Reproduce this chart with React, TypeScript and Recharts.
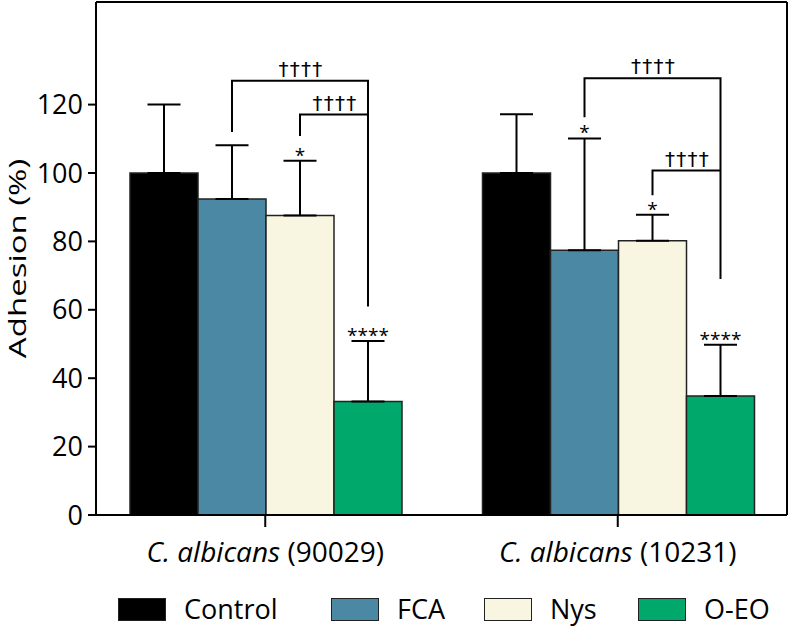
import React from "react";
import { Bar, BarChart, ErrorBar, LabelList, XAxis, YAxis } from "recharts";

const categories = ["C. albicans (90029)", "C. albicans (10231)"];
const seriesNames = ["Control", "FCA", "Nys", "O-EO"];
const seriesColors = ["#000000", "#4a88a4", "#f8f6e1", "#00a86b"];

const control = [100, 100];
const controlErr = [20, 17.2];
const fca = [92.4, 77.4];
const fcaErr = [15.7, 32.7];
const nys = [87.6, 80.2];
const nysErr = [16, 7.6];
const oeo = [33.2, 34.8];
const oeoErr = [17.7, 15];

const controlStars = ["", ""];
const fcaStars = ["", "*"];
const nysStars = ["*", "*"];
const oeoStars = ["****", "****"];

// significance brackets (O-EO vs FCA and O-EO vs Nys), in % units
const fcaBracketStart = [112, 116.3];
const fcaBracketTop = [127, 127.7];
const oeoBracketEnd = [61, 69];
const nysBracketStart = [110.8, 93.5];
const nysBracketTop = [117.1, 100.7];
const bracketMark = "††††";

const yTicks = [0, 20, 40, 60, 80, 100, 120];

const data = categories.map((name, i) => ({
  name,
  control: control[i],
  controlErr: [0, controlErr[i]],
  fca: fca[i],
  fcaErr: [0, fcaErr[i]],
  nys: nys[i],
  nysErr: [0, nysErr[i]],
  oeo: oeo[i],
  oeoErr: [0, oeoErr[i]],
}));

const FONT = "'Open Sans', sans-serif";
const MARK_FONT = "'DejaVu Sans', sans-serif";

const makeStars = (stars: string[], values: number[], errs: number[]) => (props: any) => {
  const { x, y, width, height, index } = props;
  const s = stars[index];
  if (!s) return null;
  const base = y + height;
  const ppu = height / values[index];
  const capY = base - (values[index] + errs[index]) * ppu;
  return (
    <text x={x + width / 2} y={capY + 1} textAnchor="middle" fontSize={19} fontFamily={FONT} fill="#000">
      {s}
    </text>
  );
};

const Brackets = (props: any) => {
  const { x, y, width, height, index } = props;
  const base = y + height;
  const ppu = height / oeo[index];
  const py = (v: number) => base - v * ppu;
  const cx = x + width / 2;
  const fx = cx - 2 * width;
  const nx = cx - width;
  const d =
    `M${fx},${py(fcaBracketStart[index])} V${py(fcaBracketTop[index])} H${cx} V${py(oeoBracketEnd[index])} ` +
    `M${nx},${py(nysBracketStart[index])} V${py(nysBracketTop[index])} H${cx}`;
  const markStyle = { fontSize: 20, fontFamily: MARK_FONT, fill: "#000", letterSpacing: 1.3 };
  return (
    <g>
      <path d={d} fill="none" stroke="#000" strokeWidth={2} />
      <text x={(fx + cx) / 2 + 1} y={py(fcaBracketTop[index]) - 5} textAnchor="middle" style={markStyle}>
        {bracketMark}
      </text>
      <text x={(nx + cx) / 2 + 1} y={py(nysBracketTop[index]) - 5} textAnchor="middle" style={markStyle}>
        {bracketMark}
      </text>
    </g>
  );
};

const CategoryTick = (props: any) => {
  const { x, y, payload } = props;
  const label: string = payload.value;
  const cut = label.indexOf(" (");
  return (
    <text x={x} y={y} dy={33} textAnchor="middle" fontSize={28} fontFamily={FONT} fill="#000">
      <tspan fontStyle="italic">{label.slice(0, cut)}</tspan>
      <tspan>{label.slice(cut)}</tspan>
    </text>
  );
};

const YTitle = (props: any) => {
  const { viewBox } = props;
  const cy = viewBox.y + viewBox.height / 2;
  return (
    <text
      x={0}
      y={0}
      transform={`translate(16, ${cy}) rotate(-90) scale(1, 0.72)`}
      textAnchor="middle"
      dominantBaseline="central"
      fontSize={33}
      fontFamily={FONT}
      fill="#000"
    >
      Adhesion (%)
    </text>
  );
};

const barStroke = { stroke: "#222", strokeWidth: 1.5 };
const errProps = { width: 16.5, strokeWidth: 2, stroke: "#000", direction: "y" as const };

export default function App() {
  const legendLeft = [118, 331, 484, 638];
  return (
    <div style={{ position: "absolute", left: 0, top: 0, width: 789, height: 630, background: "#fff", fontFamily: FONT }}>
      <BarChart width={789} height={630} data={data} margin={{ top: 1, right: 1, bottom: 0, left: 0 }} barCategoryGap={41} barGap={0}>
        <XAxis
          dataKey="name"
          padding={{ left: -7, right: -7 }}
          axisLine={{ stroke: "#000", strokeWidth: 2 }}
          tickLine={{ stroke: "#000", strokeWidth: 2 }}
          tickSize={12}
          tick={<CategoryTick />}
          height={115}
        />
        <XAxis xAxisId="top" orientation="top" dataKey="name" height={1} tick={false} tickLine={false} axisLine={{ stroke: "#000", strokeWidth: 2 }} />
        <YAxis
          domain={[0, 150]}
          ticks={yTicks}
          width={96}
          allowDataOverflow
          axisLine={{ stroke: "#000", strokeWidth: 2 }}
          tickLine={{ stroke: "#000", strokeWidth: 2 }}
          tickSize={8}
          tickMargin={5}
          tick={{ fontSize: 27, fontFamily: FONT, fill: "#000" }}
          label={{ content: <YTitle /> }}
        />
        <YAxis yAxisId="right" orientation="right" domain={[0, 150]} width={1} tick={false} tickLine={false} axisLine={{ stroke: "#000", strokeWidth: 2 }} />
        <Bar dataKey="control" name={seriesNames[0]} fill={seriesColors[0]} {...barStroke} isAnimationActive={false}>
          <ErrorBar dataKey="controlErr" {...errProps} />
          <LabelList content={makeStars(controlStars, control, controlErr)} />
        </Bar>
        <Bar dataKey="fca" name={seriesNames[1]} fill={seriesColors[1]} {...barStroke} isAnimationActive={false}>
          <ErrorBar dataKey="fcaErr" {...errProps} />
          <LabelList content={makeStars(fcaStars, fca, fcaErr)} />
        </Bar>
        <Bar dataKey="nys" name={seriesNames[2]} fill={seriesColors[2]} {...barStroke} isAnimationActive={false}>
          <ErrorBar dataKey="nysErr" {...errProps} />
          <LabelList content={makeStars(nysStars, nys, nysErr)} />
        </Bar>
        <Bar dataKey="oeo" name={seriesNames[3]} fill={seriesColors[3]} {...barStroke} isAnimationActive={false}>
          <ErrorBar dataKey="oeoErr" {...errProps} />
          <LabelList content={makeStars(oeoStars, oeo, oeoErr)} />
          <LabelList content={<Brackets />} />
        </Bar>
      </BarChart>
      {seriesNames.map((n, i) => (
        <div key={n} style={{ position: "absolute", left: legendLeft[i], top: 596, display: "flex", alignItems: "center", height: 26 }}>
          <div style={{ width: 46, height: 21, background: seriesColors[i], border: "1.5px solid #222" }} />
          <span style={{ marginLeft: 18, fontSize: 27, color: "#000", lineHeight: "26px" }}>{n}</span>
        </div>
      ))}
    </div>
  );
}
